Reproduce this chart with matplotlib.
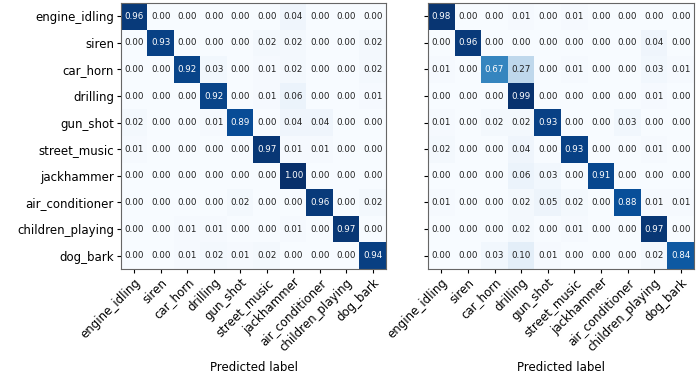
import numpy as np
import matplotlib
matplotlib.use("Agg")
import matplotlib.pyplot as plt

classes = ["engine_idling", "siren", "car_horn", "drilling", "gun_shot",
           "street_music", "jackhammer", "air_conditioner", "children_playing", "dog_bark"]

cm_left = np.array([
    [0.96, 0.00, 0.00, 0.00, 0.00, 0.00, 0.04, 0.00, 0.00, 0.00],
    [0.00, 0.93, 0.00, 0.00, 0.00, 0.02, 0.02, 0.00, 0.00, 0.02],
    [0.00, 0.00, 0.92, 0.03, 0.00, 0.01, 0.02, 0.00, 0.00, 0.02],
    [0.00, 0.00, 0.00, 0.92, 0.00, 0.01, 0.06, 0.00, 0.00, 0.01],
    [0.02, 0.00, 0.00, 0.01, 0.89, 0.00, 0.04, 0.04, 0.00, 0.00],
    [0.01, 0.00, 0.00, 0.00, 0.00, 0.97, 0.01, 0.01, 0.00, 0.00],
    [0.00, 0.00, 0.00, 0.00, 0.00, 0.00, 1.00, 0.00, 0.00, 0.00],
    [0.00, 0.00, 0.00, 0.00, 0.02, 0.00, 0.00, 0.96, 0.00, 0.02],
    [0.00, 0.00, 0.01, 0.01, 0.00, 0.00, 0.01, 0.00, 0.97, 0.00],
    [0.00, 0.00, 0.01, 0.02, 0.01, 0.02, 0.00, 0.00, 0.00, 0.94],
])

cm_right = np.array([
    [0.98, 0.00, 0.00, 0.01, 0.00, 0.01, 0.00, 0.00, 0.00, 0.00],
    [0.00, 0.96, 0.00, 0.00, 0.00, 0.00, 0.00, 0.00, 0.04, 0.00],
    [0.01, 0.00, 0.67, 0.27, 0.00, 0.01, 0.00, 0.00, 0.03, 0.01],
    [0.00, 0.00, 0.00, 0.99, 0.00, 0.00, 0.00, 0.00, 0.01, 0.00],
    [0.01, 0.00, 0.02, 0.02, 0.93, 0.00, 0.00, 0.03, 0.00, 0.00],
    [0.02, 0.00, 0.00, 0.04, 0.00, 0.93, 0.00, 0.00, 0.01, 0.00],
    [0.00, 0.00, 0.00, 0.06, 0.03, 0.00, 0.91, 0.00, 0.00, 0.00],
    [0.01, 0.00, 0.00, 0.02, 0.05, 0.02, 0.00, 0.88, 0.01, 0.01],
    [0.00, 0.00, 0.00, 0.02, 0.00, 0.01, 0.00, 0.00, 0.97, 0.00],
    [0.00, 0.00, 0.03, 0.10, 0.01, 0.00, 0.00, 0.00, 0.02, 0.84],
])

W, H = 699, 378
fig = plt.figure(figsize=(W / 100, H / 100), dpi=100)

def axrect(x0, y0, x1, y1):
    return [x0 / W, 1 - y1 / H, (x1 - x0) / W, (y1 - y0) / H]

ax1 = fig.add_axes(axrect(121, 3, 386, 269))
ax2 = fig.add_axes(axrect(428, 3, 694, 269))

def draw(ax, cm, show_y):
    ax.imshow(cm, interpolation="nearest", cmap="Blues", vmin=0, vmax=1, aspect="auto")
    n = len(classes)
    ticks = np.arange(n)
    ax.set_xticks(ticks)
    ax.set_xticklabels(classes, rotation=45, ha="right", rotation_mode="anchor", fontsize=8.5)
    ax.set_yticks(ticks)
    if show_y:
        ax.set_yticklabels(classes, fontsize=8.5)
    else:
        ax.set_yticklabels([])
    thresh = cm.max() / 2.0
    for i in range(n):
        for j in range(n):
            ax.text(j, i, f"{cm[i, j]:.2f}", ha="center", va="center", fontsize=6.3,
                    color="white" if cm[i, j] > thresh else "#222222")
    ax.set_xlabel("Predicted label", fontsize=8.5)
    for s in ax.spines.values():
        s.set_color("#666666")
    ax.tick_params(length=3, width=0.8, pad=2)

draw(ax1, cm_left, True)
draw(ax2, cm_right, False)
ax1.set_ylabel("True label", fontsize=8.5)
ax1.yaxis.set_label_coords(-0.44, 0.5)
ax1.xaxis.set_label_coords(0.5, -0.345)
ax2.xaxis.set_label_coords(0.5, -0.345)

fig.savefig("out.png", dpi=100)
